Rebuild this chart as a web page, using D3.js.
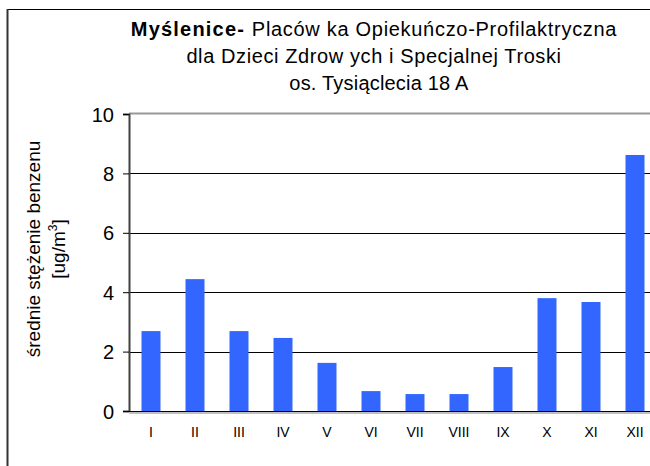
<!DOCTYPE html>
<html lang="pl">
<head>
<meta charset="UTF-8">
<title>Myślenice - benzen</title>
<script src="https://d3js.org/d3.v7.min.js"></script>
<style>
  html, body { margin: 0; padding: 0; background: #fff; }
  text { font-family: "Liberation Sans", Arial, sans-serif; fill: #000; }
</style>
</head>
<body>
<div id="chart"></div>
<script>
// dane
const months = ["I", "II", "III", "IV", "V", "VI", "VII", "VIII", "IX", "X", "XI", "XII"];
const benzen = [2.69, 4.44, 2.69, 2.46, 1.62, 0.67, 0.57, 0.57, 1.48, 3.80, 3.67, 8.62];
const yTicks = [0, 2, 4, 6, 8, 10];

const width = 650, height = 466;
const plotLeft = 129, plotBottom = 411, plotTop = 114;
const step = 44;

const svg = d3.select("#chart").append("svg")
  .attr("width", width)
  .attr("height", height);

// ramka
svg.append("line").attr("x1", 7).attr("x2", 650).attr("y1", 9.5).attr("y2", 9.5)
  .attr("stroke", "#000").attr("stroke-width", 1);
svg.append("line").attr("x1", 7.5).attr("x2", 7.5).attr("y1", 9).attr("y2", 466)
  .attr("stroke", "#333").attr("stroke-width", 2);

const x = d3.scaleBand().domain(months).range([plotLeft, plotLeft + step * months.length]).paddingInner(25 / 44).paddingOuter(12.5 / 44);
const y = d3.scaleLinear().domain([0, 10]).range([plotBottom, plotTop]);

// siatka
svg.append("g").selectAll("line")
  .data(yTicks.filter(d => d > 0 && d < 10))
  .join("line")
  .attr("x1", plotLeft).attr("x2", width)
  .attr("y1", d => Math.round(y(d)) + 0.5).attr("y2", d => Math.round(y(d)) + 0.5)
  .attr("stroke", "#000");
svg.append("line").attr("x1", plotLeft).attr("x2", width)
  .attr("y1", y(10) - 0.5).attr("y2", y(10) - 0.5)
  .attr("stroke", "#999").attr("stroke-width", 2);

// słupki
svg.append("g").selectAll("rect")
  .data(benzen)
  .join("rect")
  .attr("x", (d, i) => x(months[i]))
  .attr("width", x.bandwidth())
  .attr("y", d => y(d))
  .attr("height", d => y(0) - y(d))
  .attr("fill", "#3366FF");

// oś Y
const yAxis = svg.append("g")
  .attr("transform", `translate(${plotLeft},0)`)
  .call(d3.axisLeft(y).tickValues(yTicks).tickSize(6).tickPadding(9));
yAxis.select(".domain").attr("stroke", "#404040").attr("stroke-width", 2);
yAxis.selectAll(".tick line").attr("stroke", "#000");
yAxis.selectAll(".tick text").style("font-size", "20px").attr("fill", "#000").attr("dy", "0.35em");

// linia bazowa
svg.append("line").attr("x1", plotLeft).attr("x2", width).attr("y1", plotBottom + 2).attr("y2", plotBottom + 2)
  .attr("stroke", "#c0c0c0").attr("stroke-width", 2);
svg.append("line").attr("x1", plotLeft - 6).attr("x2", width).attr("y1", plotBottom + 0.5).attr("y2", plotBottom + 0.5)
  .attr("stroke", "#000");

// oś X - etykiety
svg.append("g").selectAll("text")
  .data(months)
  .join("text")
  .attr("x", d => x(d) + x.bandwidth() / 2)
  .attr("y", 437)
  .attr("text-anchor", "middle")
  .style("font-size", "14px")
  .text(d => d);

// tytuł osi Y
const yt = svg.append("text")
  .attr("transform", "translate(0,249) rotate(-90)")
  .attr("text-anchor", "middle")
  .style("font-size", "19px");
yt.append("tspan").attr("x", 0).attr("y", 40).text("średnie stężenie benzenu");
const t2 = yt.append("tspan").attr("x", 0).attr("y", 65);
t2.append("tspan").text("[ug/m");
t2.append("tspan").attr("dy", -8).style("font-size", "12px").text("3");
t2.append("tspan").attr("dy", 8).text("]");

// tytuł
const title = svg.append("text").attr("text-anchor", "middle").style("font-size", "20px");
const l1 = title.append("tspan").attr("x", 374).attr("y", 36);
l1.append("tspan").style("font-weight", "bold").style("letter-spacing", "1.2px").text("Myślenice- ");
l1.append("tspan").style("letter-spacing", "0.7px").text("Placów ka Opiekuńczo-Profilaktryczna");
title.append("tspan").attr("x", 374).attr("y", 63).style("letter-spacing", "0.6px").text("dla Dzieci Zdrow ych i Specjalnej Troski");
title.append("tspan").attr("x", 379).attr("y", 90).style("letter-spacing", "0.2px").text("os. Tysiąclecia 18 A");
</script>
</body>
</html>
